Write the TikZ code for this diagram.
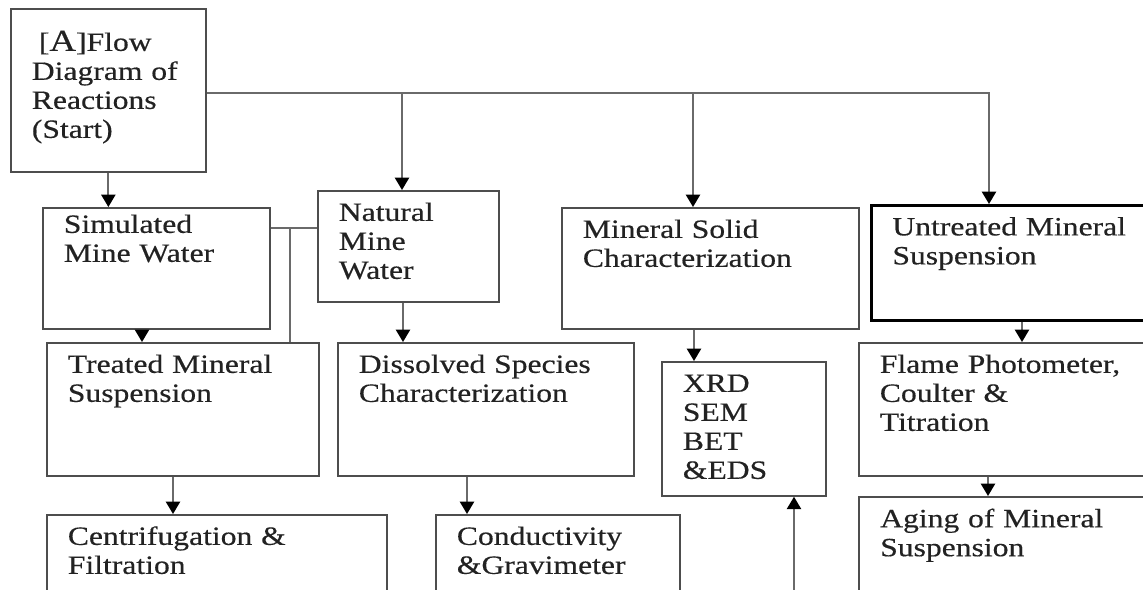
\documentclass[tikz,border=0pt]{standalone}
\usepackage{fontspec}
\setmainfont[FakeStretch=1.2, FakeBold=0.4]{Liberation Serif}
\usetikzlibrary{arrows.meta, positioning, calc}
\definecolor{boxink}{HTML}{4D4D4D}
\definecolor{wireink}{HTML}{6A6A6A}
\definecolor{textink}{HTML}{222222}

\begin{document}
\begin{tikzpicture}[x=0.02cm, y=-0.02cm,
    blk/.style={draw=boxink, line width=1pt, anchor=north west, align=left,
      inner xsep=0.42cm, inner ysep=0.08cm, text height=0.52cm,
      text=textink, font=\fontsize{15}{16.5}\selectfont},
    wire/.style={draw=wireink, line width=1.1pt},
    flow/.style={wire, -{Triangle[length=7pt, width=8pt, color=black]}}]
    \useasboundingbox (0,0) rectangle (1143,589);
    \fill[white] (0,0) rectangle (1143,589);
    \clip (0,0) rectangle (1143,589);
    % boxes
    \node[blk, text width=3.06cm, text height=0.76cm, text depth=2.34cm] (start) at (10,8)
      {\hspace{4pt}[{\fontsize{17.5}{17.5}\selectfont A}]Flow\\Diagram of\\Reactions\\(Start)};
    \node[blk, text width=3.70cm, text height=0.42cm, text depth=1.84cm] (sim) at (42,207) {Simulated\\Mine Water};
    \node[blk, text width=2.78cm, text depth=1.54cm] (nat) at (317,190) {Natural\\Mine\\Water};
    \node[blk, text width=5.10cm, text depth=1.74cm] (msc) at (561,207) {Mineral Solid\\Characterization};
    \node[blk, draw=black, line width=1.6pt, text width=4.96cm, text depth=1.62cm] (ums) at (870,204) {Untreated Mineral\\Suspension};
    \node[blk, text width=4.60cm, text depth=1.98cm] (tms) at (46,342) {Treated Mineral\\Suspension};
    \node[blk, text width=5.08cm, text depth=1.98cm] (dsc) at (337,342) {Dissolved Species\\Characterization};
    \node[blk, text width=2.44cm, text depth=2.00cm] (xrd) at (661,361) {XRD\\SEM\\BET\\\&EDS};
    \node[blk, text width=5.20cm, text depth=1.98cm] (fpc) at (858,342) {Flame Photometer,\\Coulter \&\\Titration};
    \node[blk, text width=5.96cm, text depth=1.04cm] (cnf) at (46,514) {Centrifugation \&\\Filtration};
    \node[blk, text width=4.04cm, text depth=1.04cm] (cgv) at (435,514) {Conductivity\\\&Gravimeter};
    \node[blk, line width=1.4pt, text width=5.20cm, text depth=1.40cm] (age) at (858,496) {Aging of Mineral\\Suspension};
    % trunk from the start box
    \draw[flow] (start.south) -- (start.south |- sim.north);
    \coordinate (trunk) at ($(start.north east)+(0,85)$);
    \coordinate (umsin) at ($(ums.north west)+(119,0)$);
    \coordinate (natin) at ($(nat.north west)+(85,0)$);
    \coordinate (mscin) at ($(msc.north west)+(132,0)$);
    \draw[flow] (trunk) -| (umsin);
    \draw[flow] (trunk -| natin) -- (natin);
    \draw[flow] (trunk -| mscin) -- (mscin);
    % simulated / natural link
    \coordinate (link) at ($(sim.north east)+(0,21)$);
    \coordinate (linkdown) at ($(link)+(19,0)$);
    \draw[wire] (link) -- (link -| nat.west);
    \draw[wire] (linkdown) -- (linkdown |- tms.north);
    % downward steps
    \coordinate (simout) at ($(sim.south west)+(100,0)$);
    \coordinate (natout) at ($(nat.south west)+(86,0)$);
    \coordinate (mscout) at ($(msc.south west)+(133,0)$);
    \coordinate (umsout) at ($(ums.south west)+(152,0)$);
    \coordinate (tmsout) at ($(tms.south west)+(127,0)$);
    \coordinate (dscout) at ($(dsc.south west)+(130,0)$);
    \coordinate (fpcout) at ($(fpc.south west)+(130,0)$);
    \draw[flow] (simout) -- (simout |- tms.north);
    \draw[flow] (natout) -- (natout |- dsc.north);
    \draw[flow] (mscout) -- (mscout |- xrd.north);
    \draw[flow] (umsout) -- (umsout |- fpc.north);
    \draw[flow] (tmsout) -- (tmsout |- cnf.north);
    \draw[flow] (dscout) -- (dscout |- cgv.north);
    \draw[flow] (fpcout) -- (fpcout |- age.north);
    \coordinate (feed) at (794,600);
    \draw[flow] (feed) -- (feed |- xrd.south);
\end{tikzpicture}
\end{document}
